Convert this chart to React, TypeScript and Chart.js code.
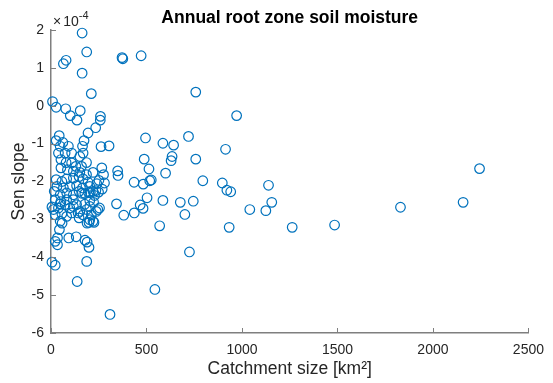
import { useEffect, useRef } from 'react';
import { Chart, registerables } from 'chart.js';

Chart.register(...registerables);

// Catchment size [km²]
const catchmentSize = [
  163, 187, 65, 79, 163, 211, 372, 376, 472, 758, 972, 8, 27, 77, 101, 136, 153, 259, 258, 234,
  194, 495, 720, 586, 642, 304, 262, 914, 488, 634, 629, 758, 513, 266, 349, 351, 600, 435, 483, 517,
  525, 795, 897, 921, 941, 1139, 1156, 1125, 1041, 1263, 933, 343, 381, 436, 467, 482, 503, 586, 569, 677,
  701, 745, 725, 544, 309, 137, 5, 22, 187, 93, 132, 178, 189, 199, 34, 34, 44, 5, 13, 161,
  197, 235, 268, 249, 280, 2244, 2158, 1830, 1485,
  173, 165, 43, 27, 62, 91, 48, 108, 74, 39, 151, 168, 52, 79, 108, 130, 160, 186, 52, 86,
  117, 151, 186, 220, 275, 251, 27, 57, 82, 117, 147, 168, 194, 31, 65, 99, 134, 165, 203, 240,
  17, 48, 82, 117, 147, 177, 206, 228, 22, 52, 82, 117, 203, 223, 134, 39, 99, 48, 74, 117,
  22, 57, 82, 108, 142, 168, 186, 203, 245, 211, 199, 220, 147, 48, 22, 177, 203, 189, 225, 237,
  254, 151, 58, 220,
];

// Sen slope, in units of 1e-4
const senSlopeE4 = [
  1.92, 1.42, 1.11, 1.2, 0.86, 0.32, 1.27, 1.24, 1.32, 0.36, -0.26, 0.11, -0.04, -0.08, -0.26, -0.38, -0.13, -0.28, -0.38, -0.58,
  -0.72, -0.85, -0.81, -0.99, -1.04, -1.06, -1.08, -1.15, -1.41, -1.34, -1.45, -1.41, -1.67, -1.64, -1.72, -1.84, -1.78, -2.02, -2.07, -1.98,
  -1.96, -1.98, -2.04, -2.23, -2.27, -2.1, -2.55, -2.77, -2.74, -3.21, -3.21, -2.59, -2.89, -2.83, -2.62, -2.71, -2.43, -2.5, -3.17, -2.55,
  -2.87, -2.52, -3.86, -4.85, -5.51, -4.64, -4.13, -4.21, -4.11, -3.49, -3.46, -3.55, -3.6, -3.74, -3.49, -3.67, -3.27, -2.67, -2.74, -2.31,
  -2.29, -2.24, -2.2, -2.28, -2.04, -1.66, -2.55, -2.68, -3.15,
  -0.92, -1.07, -0.79, -0.92, -0.97, -1.07, -1.07, -1.25, -1.25, -1.25, -1.34, -1.25, -1.42, -1.5, -1.51, -1.6, -1.6, -1.5, -1.64, -1.69,
  -1.73, -1.76, -1.82, -1.76, -1.82, -1.97, -1.95, -2.0, -1.93, -1.91, -1.87, -1.93, -2.02, -2.13, -2.17, -2.13, -2.11, -2.17, -2.13, -2.06,
  -2.26, -2.35, -2.3, -2.35, -2.26, -2.32, -2.29, -2.37, -2.48, -2.53, -2.48, -2.48, -2.5, -2.55, -2.61, -2.7, -2.7, -2.59, -2.61, -2.66,
  -2.88, -2.85, -2.92, -2.83, -2.83, -2.88, -2.74, -2.66, -2.74, -2.88, -3.08, -3.05, -2.96, -3.05, -3.58, -2.6, -3.01, -3.1, -3.08, -2.79,
  -2.7, -2.79, -3.1, -2.26,
];

const xTickValues = [0, 500, 1000, 1500, 2000, 2500];
const yTickValues = [-6, -5, -4, -3, -2, -1, 0, 1, 2];

const TITLE = 'Annual root zone soil moisture';
const X_LABEL = 'Catchment size [km²]';
const Y_LABEL = 'Sen slope';
const EXPONENT = '-4';

const FONT = '"Liberation Sans", Arial, Helvetica, sans-serif';
const TEXT_COLOR = '#262626';
const AXIS_COLOR = '#7f7f7f';
const MARKER_COLOR = '#0072BD';

const decorPlugin = {
  id: 'decor',
  afterDraw(chart: any) {
    const { ctx, chartArea, scales } = chart;
    const xs = scales.x;
    const ys = scales.y;
    ctx.save();
    ctx.strokeStyle = AXIS_COLOR;
    ctx.lineWidth = 1;
    ctx.beginPath();
    xs.ticks.forEach((t: any) => {
      const px = Math.round(xs.getPixelForValue(t.value)) + 0.5;
      ctx.moveTo(px, chartArea.bottom);
      ctx.lineTo(px, chartArea.bottom - 5);
    });
    ys.ticks.forEach((t: any) => {
      const py = Math.round(ys.getPixelForValue(t.value)) + 0.5;
      ctx.moveTo(chartArea.left, py);
      ctx.lineTo(chartArea.left + 5, py);
    });
    ctx.stroke();

    // exponent label (×10^-4)
    ctx.fillStyle = TEXT_COLOR;
    ctx.textAlign = 'left';
    ctx.textBaseline = 'alphabetic';
    ctx.font = `14px ${FONT}`;
    const x0 = chartArea.left + 2;
    ctx.fillText('×', x0, 26);
    const wx = ctx.measureText('×').width + 2;
    ctx.fillText('10', x0 + wx, 26);
    const w10 = ctx.measureText('10').width;
    ctx.font = `11px ${FONT}`;
    ctx.fillText(EXPONENT, x0 + wx + w10, 19);

    // title
    ctx.fillStyle = '#000000';
    ctx.font = `bold 17.5px ${FONT}`;
    ctx.textAlign = 'center';
    ctx.fillText(TITLE, (chartArea.left + chartArea.right) / 2, 22.5);
    ctx.restore();
  },
};

export default function App() {
  const canvasRef = useRef<HTMLCanvasElement | null>(null);

  useEffect(() => {
    if (!canvasRef.current) return;
    const points = catchmentSize.map((x, i) => ({ x, y: senSlopeE4[i] }));
    const chart = new Chart(canvasRef.current, {
      type: 'scatter',
      data: {
        datasets: [
          {
            data: points,
            pointStyle: 'circle',
            pointRadius: 4.8,
            pointHoverRadius: 4.8,
            pointBorderWidth: 1.2,
            pointBorderColor: MARKER_COLOR,
            pointBackgroundColor: 'rgba(0,0,0,0)',
            clip: false as any,
          },
        ],
      },
      options: {
        responsive: false,
        animation: false,
        devicePixelRatio: 1,
        layout: { padding: { left: 0, right: 18, top: 30, bottom: 0 } },
        plugins: {
          legend: { display: false },
          tooltip: { enabled: false },
          title: { display: false },
        },
        scales: {
          x: {
            type: 'linear',
            min: 0,
            max: 2500,
            afterBuildTicks: (scale: any) => {
              scale.ticks = xTickValues.map((v) => ({ value: v }));
            },
            afterFit: (scale: any) => {
              scale.height = 50;
            },
            grid: { display: false, drawTicks: false, tickLength: 0 },
            border: { display: true, color: AXIS_COLOR, width: 1.5 },
            ticks: {
              padding: 9,
              color: TEXT_COLOR,
              font: { family: FONT, size: 14, lineHeight: 1.2 },
              maxRotation: 0,
              autoSkip: false,
              callback: (v: any) => String(v),
            },
            title: {
              display: true,
              text: X_LABEL,
              color: TEXT_COLOR,
              font: { family: FONT, size: 17.5, lineHeight: 1.2 },
              padding: { top: 0, bottom: 3 },
            },
          },
          y: {
            type: 'linear',
            min: -6,
            max: 2,
            afterBuildTicks: (scale: any) => {
              scale.ticks = yTickValues.map((v) => ({ value: v }));
            },
            afterFit: (scale: any) => {
              scale.width = 51;
            },
            grid: { display: false, drawTicks: false, tickLength: 0 },
            border: { display: true, color: AXIS_COLOR, width: 1.5 },
            ticks: {
              padding: 7,
              color: TEXT_COLOR,
              font: { family: FONT, size: 14, lineHeight: 1.2 },
              autoSkip: false,
              callback: (v: any) => String(v),
            },
            title: {
              display: true,
              text: Y_LABEL,
              color: TEXT_COLOR,
              font: { family: FONT, size: 17.5, lineHeight: 1.2 },
              padding: { top: 9, bottom: 0 },
            },
          },
        },
      },
      plugins: [decorPlugin],
    });
    return () => chart.destroy();
  }, []);

  return (
    <div style={{ position: 'absolute', left: 0, top: 0, width: 553, height: 383, background: '#fff' }}>
      <canvas ref={canvasRef} width={553} height={383} style={{ display: 'block', width: 553, height: 383 }} />
    </div>
  );
}
